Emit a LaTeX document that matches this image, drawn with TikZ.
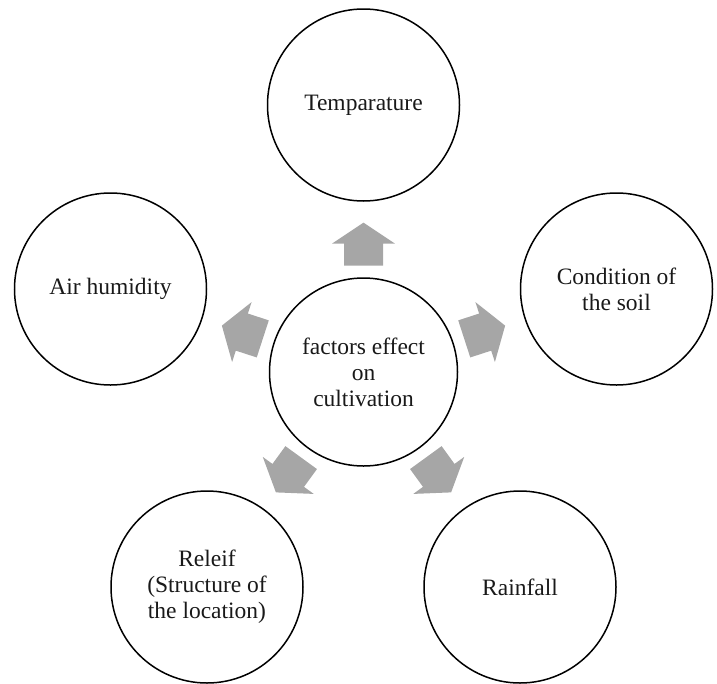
\documentclass[tikz,border=0pt]{standalone}
\usepackage{fontspec}
\setmainfont{Liberation Serif}
\usetikzlibrary{calc}
\begin{document}
\begin{tikzpicture}[x=1pt,y=-1pt,
  bubble/.style={circle, draw=black, line width=1.5pt, minimum size=192pt, inner sep=0pt, align=center, font=\fontsize{23.5}{26}\selectfont, text=black!90},
  hubnode/.style={bubble, minimum size=188pt},
  blockarrow/.style={fill=black!35, draw=none}]
\useasboundingbox (0,0) rectangle (717,683);
\node[hubnode] (hub) at (363.5,372) {factors effect\\on\\cultivation};
\node[bubble] (top) at (363.5,105) {Temparature};
\node[bubble] (right) at (616.5,289) {Condition of\\the soil};
\node[bubble] (left) at (110.5,289) {Air humidity};
\node[bubble] (bl) at (207,587) {Releif\\(Structure of\\the location)};
\node[bubble] (br) at (520,587) {Rainfall};
\foreach \t/\a in {top/90, right/18, left/162, bl/234, br/306} {
  \begin{scope}[shift={($(hub)!0.479!(\t)$)}, rotate=\a]
    \fill[blockarrow] (-21.5,-19.5) -- (0.5,-19.5) -- (0.5,-31.5) -- (21.5,0) -- (0.5,31.5) -- (0.5,19.5) -- (-21.5,19.5) -- cycle;
  \end{scope}
}
\end{tikzpicture}
\end{document}
